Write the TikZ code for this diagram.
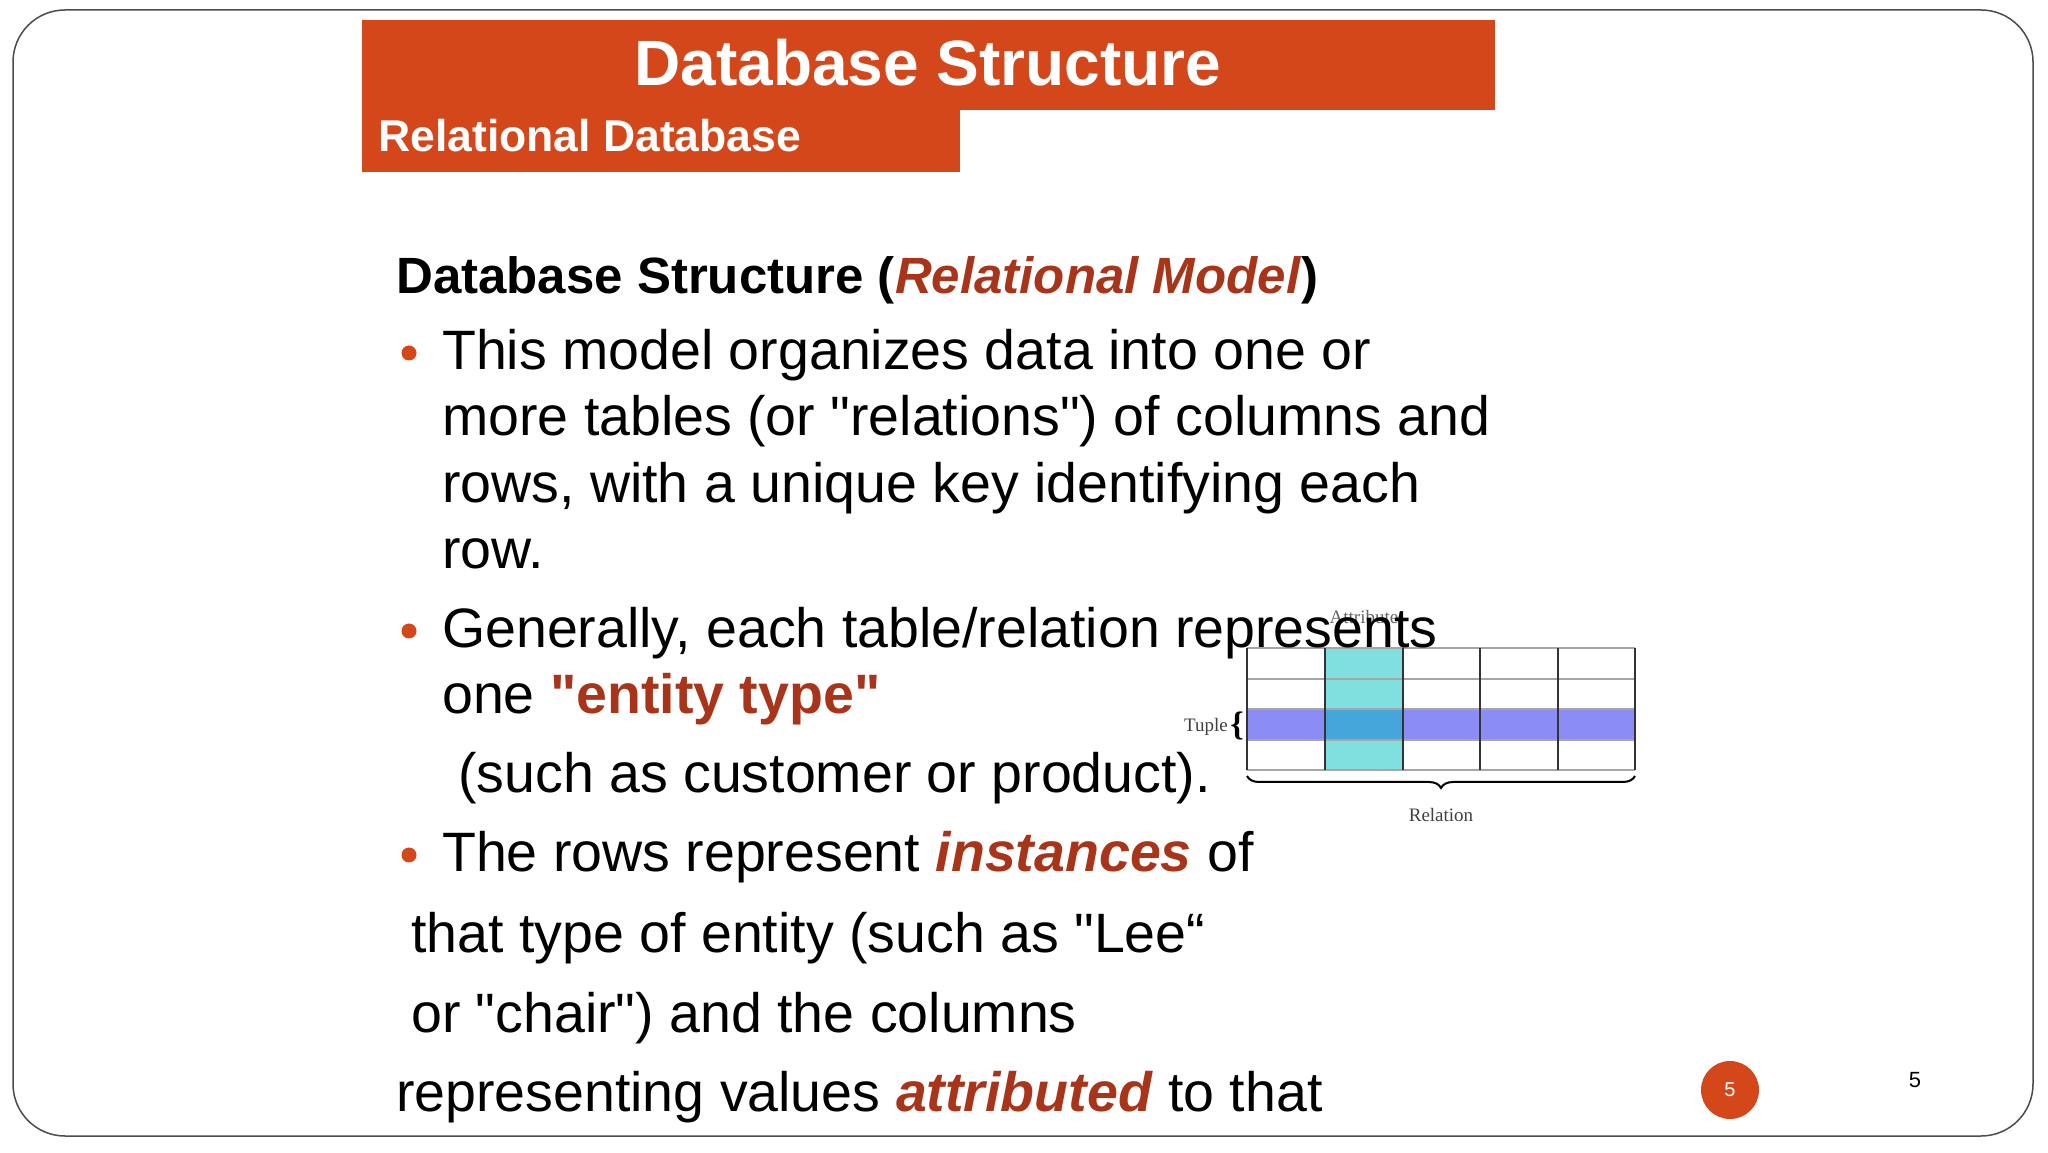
\documentclass[tikz,border=0pt]{standalone}
\usepackage{fontspec}
\setmainfont{Liberation Sans}[Ligatures=ResetAll]
\setsansfont{Liberation Sans}[Ligatures=ResetAll]
\newfontfamily\serifx{Liberation Serif}
\newcommand{\dq}{\XeTeXglyph\XeTeXcharglyph"22\relax}
\usetikzlibrary{decorations.pathreplacing}
\definecolor{bar}{HTML}{D4471A}
\definecolor{hl}{HTML}{A8341A}
\definecolor{tupc}{HTML}{8C8CF6}
\definecolor{attc}{HTML}{80E0E0}
\definecolor{mixc}{HTML}{45A6DC}
\begin{document}
\begin{tikzpicture}[x=1pt,y=1pt,
  body/.style={anchor=base west,inner sep=0pt,font=\fontsize{55.5}{60}\selectfont},
  dotb/.style={circle,fill=bar,inner sep=0pt,minimum size=15pt}]
\useasboundingbox (0,0) rectangle (2048,1152);
\fill[white] (0,0) rectangle (2048,1152);
\draw[line width=1.5pt,black!70,rounded corners=52pt] (13,16) rectangle (2033,1142);
% title bars
\fill[bar] (362,1042) rectangle (1495,1132);
\fill[bar] (362,980) rectangle (960,1042);
\node[text=white,font=\bfseries\fontsize{64}{66}\selectfont,anchor=base] (t) at (928,1066) {Database Structure};
\node[text=white,font=\bfseries\fontsize{44.5}{46}\selectfont,anchor=base west,inner sep=0pt] (st) at (378,1000) {Relational Database};
% body
\node[body,font=\fontsize{51}{56}\selectfont] (h) at (396,858) {\textbf{Database Structure (\textcolor{hl}{\textit{Relational Model}})}};
\node[dotb] (b1) at (409,799) {};
\node[body] (l1) at (442,782) {This model organizes data into one or};
\node[body] (l2) at (442,716) {more tables (or \dq relations\dq) of columns and};
\node[body] (l3) at (442,649) {rows, with a unique key identifying each};
\node[body] (l4) at (442,583) {row.};
\node[dotb] (b2) at (409,521) {};
% table
\fill[attc] (1325,382) rectangle (1403,504);
\fill[tupc] (1247,412) rectangle (1635,443);
\fill[mixc] (1325,412) rectangle (1403,443);
\foreach \y in {382,412,443,473,504} \draw[black!35,line width=1.2pt] (1247,\y) -- (1635,\y);
\foreach \x in {1247,1325,1403,1480,1558,1635} \draw[black!80,line width=1.2pt] (\x,382) -- (\x,504);
\node[font=\serifx\fontsize{19}{20}\selectfont,text=black!60,anchor=base] (attr) at (1364,528) {Attribute};
\draw[decorate,decoration={brace,amplitude=12pt},line width=2pt] (1635,376) -- (1247,376) coordinate[pos=0.5] (bm);
\node[font=\serifx\fontsize{19}{20}\selectfont,text=black!75,anchor=base] (rel) at (1441,330) {Relation};
\node[font=\serifx\fontsize{19}{20}\selectfont,text=black!75,anchor=base east,inner sep=0pt] (tup) at (1228,420) {Tuple};
\node[font=\serifx\bfseries\fontsize{34}{34}\selectfont,anchor=base east,inner sep=0pt] (tb) at (1244,416) {\{};
% text over table
\node[body] (l5) at (442,504) {Generally, each table/relation represents};
\node[body] (l6) at (442,438) {one \textcolor{hl}{\textbf{\dq entity type\dq}}};
\node[body] (l7) at (458,359) {(such as customer or product).};
\node[dotb] (b3) at (409,297) {};
\node[body] (l8) at (442,280) {The rows represent \textcolor{hl}{\textbf{\textit{instances}}} of};
\node[body] (l9) at (411,200) {that type of entity (such as \dq Lee“};
\node[body] (l10) at (411,120) {or \dq chair\dq) and the columns};
\node[body] (l11) at (396,41) {representing values \textcolor{hl}{\textbf{\textit{attributed}}} to that};
% page numbers
\node[circle,fill=bar,minimum size=58pt,inner sep=0pt,text=white,font=\fontsize{20}{20}\selectfont] (pc) at (1730,62) {5};
\node[font=\fontsize{22}{22}\selectfont] (pn) at (1915,72) {5};
\end{tikzpicture}
\end{document}
